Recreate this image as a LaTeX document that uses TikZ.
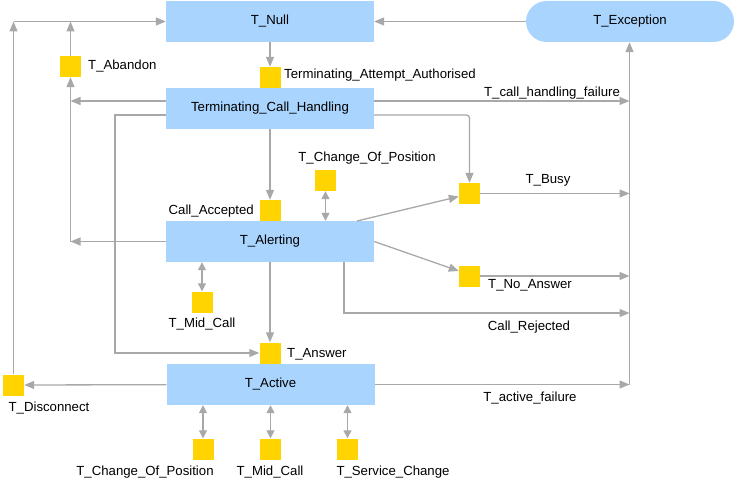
\documentclass[tikz,border=0pt]{standalone}
\usepackage{fontspec}
\setmainfont{Liberation Sans}
\usetikzlibrary{arrows.meta}
\definecolor{boxblue}{RGB}{169,212,253}
\definecolor{sqyellow}{RGB}{255,212,0}
\definecolor{lngray}{RGB}{168,168,168}
\begin{document}
\begin{tikzpicture}[x=1pt,y=-1pt,font=\fontsize{13.2}{15}\selectfont,
  statebox/.style={fill=boxblue,minimum width=208pt,minimum height=41pt,inner sep=0pt},
  sqbox/.style={fill=sqyellow,minimum size=21pt,inner sep=0pt},
  conn/.style={draw=lngray,line width=1.3pt,-{Triangle[length=10pt,width=8pt]}},
  dbl/.style={draw=lngray,line width=1.3pt,{Triangle[length=8pt,width=8pt]}-{Triangle[length=8pt,width=8pt]}},
  lbl/.style={inner sep=0pt}]
\useasboundingbox (0,0) rectangle (734,484);
% states
\node[statebox] (null) at (270,21.5) {T\_Null};
\node[statebox,rounded corners=20.5pt] (exc) at (630,21.5) {T\_Exception};
\node[statebox] (tch) at (270,108.5) {Terminating\_Call\_Handling};
\node[statebox] (alert) at (270,241.5) {T\_Alerting};
\node[statebox] (active) at (270.5,384.5) {T\_Active};
% squares
\node[sqbox] (aband) at (70.5,66.5) {};
\node[sqbox] (taa) at (270,77.5) {};
\node[sqbox] (chpos) at (325.5,180.5) {};
\node[sqbox] (acc) at (270,210.5) {};
\node[sqbox] (busy) at (469.5,193.5) {};
\node[sqbox] (noans) at (469.5,276) {};
\node[sqbox] (midA) at (202,302) {};
\node[sqbox] (ans) at (270,353) {};
\node[sqbox] (disc) at (13.5,385) {};
\node[sqbox] (chpos2) at (203,449) {};
\node[sqbox] (mid2) at (270.5,449) {};
\node[sqbox] (svc) at (347.5,449) {};
% labels
\node[lbl,anchor=west] (lAband) at (88,66.5) {T\_Abandon};
\node[lbl,anchor=west] (lTaa) at (284,75.5) {Terminating\_Attempt\_Authorised};
\node[lbl] (lChpos) at (367,158) {T\_Change\_Of\_Position};
\node[lbl,anchor=east] (lAcc) at (254,211.5) {Call\_Accepted};
\node[lbl] (lFail) at (552,93.5) {T\_call\_handling\_failure};
\node[lbl] (lBusy) at (548,180) {T\_Busy};
\node[lbl] (lNoans) at (530,285.5) {T\_No\_Answer};
\node[lbl] (lMidA) at (202,324) {T\_Mid\_Call};
\node[lbl] (lRej) at (529,327.5) {Call\_Rejected};
\node[lbl,anchor=west] (lAns) at (287,354) {T\_Answer};
\node[lbl] (lDisc) at (49,408) {T\_Disconnect};
\node[lbl] (lActFail) at (530,398) {T\_active\_failure};
\node[lbl] (lChpos2) at (145,472) {T\_Change\_Of\_Position};
\node[lbl] (lMid2) at (270,472) {T\_Mid\_Call};
\node[lbl] (lSvc) at (393,472) {T\_Service\_Change};
% helper coordinates
\coordinate (vb) at (629.5,384.5);
\coordinate (lx) at (115,0);
\coordinate (tchL) at ([yshift=7.5pt]tch.west);
\coordinate (tchL2) at ([yshift=-6.5pt]tch.west);
\coordinate (tchR) at ([yshift=7.5pt]tch.east);
\coordinate (tchR2) at ([yshift=-6.5pt]tch.east);
\coordinate (aBs) at (357,221);
\coordinate (aRb) at (344,262);
\coordinate (rej) at (629.5,313);
\coordinate (busyIn) at ([yshift=-3pt]busy.west);
\coordinate (noansIn) at ([yshift=5pt]noans.west);
% connectors
\draw[conn] (exc) -- (null);
\draw[conn] (null) -- (taa);
\draw[conn] (tchL) -- (tchL -| aband);
\draw[conn] (alert.west) -- (alert.west -| aband);
\draw[conn] (alert.west -| aband) -- (aband.south);
\draw[conn] (aband) -- (aband |- null.west);
\draw[conn] (disc |- null.west) -- (null.west);
\draw[conn] (disc) -- (disc |- null.west);
\draw[conn] (tchL2) -| (lx |- ans.west) -- (ans.west);
\draw[conn] (tchR) -- (tchR -| vb);
\draw[conn,rounded corners=3pt] (tchR2) -| (busy.north);
\draw[conn] (tch) -- (acc);
\draw[dbl] (chpos.south) -- (chpos.south |- alert.north);
\draw[conn] (aBs) -- (busyIn);
\draw[conn] (alert.east) -- (noansIn);
\draw[conn] (busy) -- (busy -| vb);
\draw[conn] (noans) -- (noans -| vb);
\draw[conn] (aRb) |- (rej);
\draw[conn] (alert) -- (ans);
\draw[dbl] (midA.north) -- (midA.north |- alert.south);
\draw[conn] (active) -- (disc);
\draw[conn] (active.east) -- (vb);
\draw[conn] (vb) -- (vb |- exc.south);
\draw[dbl] (chpos2.north) -- (chpos2.north |- active.south);
\draw[dbl] (mid2.north) -- (mid2.north |- active.south);
\draw[dbl] (svc.north) -- (svc.north |- active.south);
\end{tikzpicture}
\end{document}
